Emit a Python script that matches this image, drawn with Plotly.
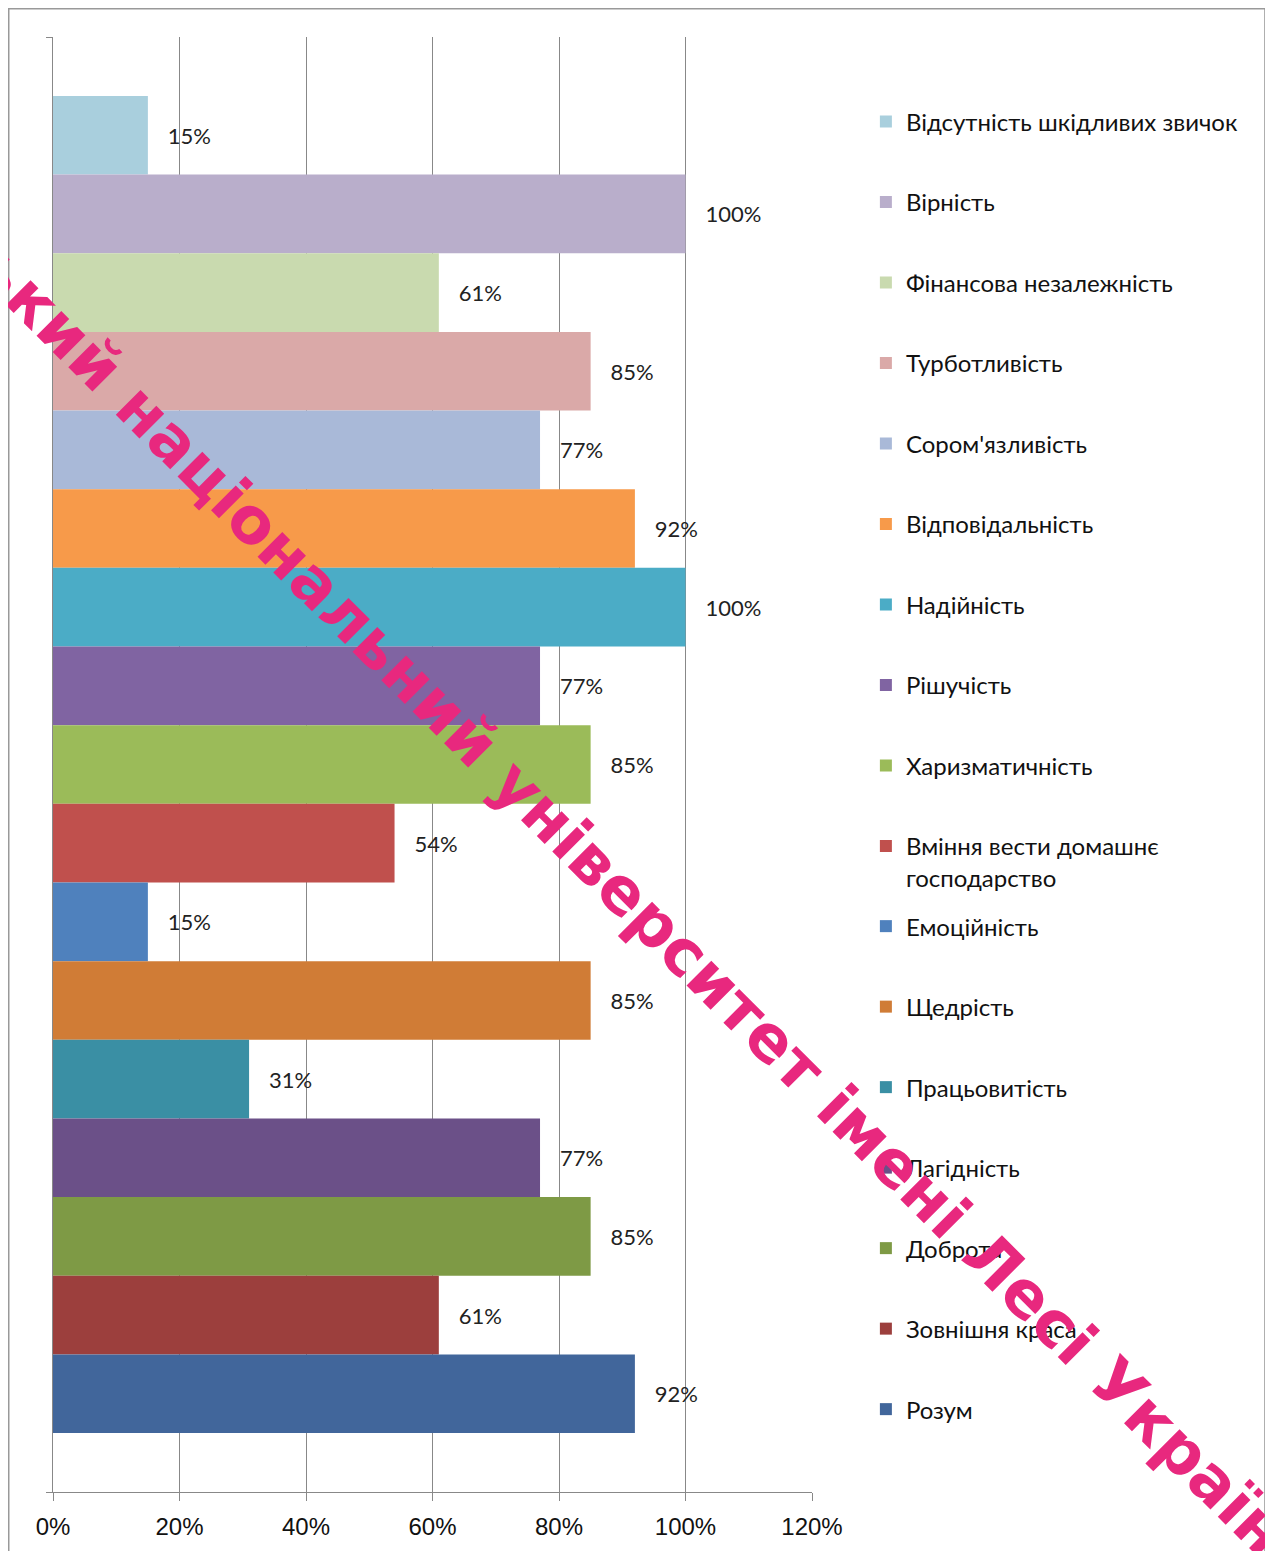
import plotly.graph_objects as go

traits = [
    "Відсутність шкідливих звичок",
    "Вірність",
    "Фінансова незалежність",
    "Турботливість",
    "Сором'язливість",
    "Відповідальність",
    "Надійність",
    "Рішучість",
    "Харизматичність",
    "Вміння вести домашнє<br>господарство",
    "Емоційність",
    "Щедрість",
    "Працьовитість",
    "Лагідність",
    "Доброта",
    "Зовнішня краса",
    "Розум",
]
values = [15, 100, 61, 85, 77, 92, 100, 77, 85, 54, 15, 85, 31, 77, 85, 61, 92]
colors = [
    "#A9CFDD", "#B9AECB", "#C9DAAF", "#DAA9A8", "#A9B9D8", "#F79A4A",
    "#4BACC6", "#8064A2", "#9BBB59", "#C0504D", "#4F81BD", "#D07C36",
    "#3A8FA4", "#6B5088", "#7E9A45", "#9C3F3D", "#41669B",
]
x_tick_vals = [0, 0.2, 0.4, 0.6, 0.8, 1.0, 1.2]
x_tick_text = ["0%", "20%", "40%", "60%", "80%", "100%", "120%"]
watermark = "Східноєвропейський національний університет імені Лесі Українки"

GRID = "#888888"
fig = go.Figure()
for i, (name, v, c) in enumerate(zip(traits, values, colors)):
    fig.add_trace(go.Bar(
        y=["q"], x=[v / 100], orientation="h", name=name,
        marker=dict(color=c, line=dict(width=0)),
        text=[f"{v}%"], texttemplate="\u00a0\u00a0\u00a0%{text}",
        textposition="outside", cliponaxis=False, constraintext="none",
        textfont=dict(family="Lato", size=22, color="#222222"),
        legend="legend" if i < 10 else "legend2",
        legendgroup=f"g{i}",
    ))

legend_common = dict(
    traceorder="grouped", tracegroupgap=46.3, valign="top",
    font=dict(family="Lato", size=24, color="#111111"),
    bgcolor="rgba(0,0,0,0)", xanchor="left", yanchor="top",
    itemsizing="constant",
)
fig.update_layout(
    width=1265, height=1543,
    margin=dict(l=45, r=461, t=29, b=59),
    paper_bgcolor="white", plot_bgcolor="white",
    barmode="group", bargap=0.081,
    showlegend=True,
    legend=dict(x=1.071, y=0.9571, **legend_common),
    legend2=dict(x=1.071, y=0.4041, **legend_common),
    xaxis=dict(
        range=[0, 1.2], tickvals=x_tick_vals, ticktext=x_tick_text,
        showgrid=True, gridcolor=GRID, gridwidth=1.3,
        showline=True, linecolor=GRID, linewidth=1.3,
        ticks="outside", ticklen=8, tickcolor=GRID, tickwidth=1.3,
        tickfont=dict(family="Liberation Sans, Arial, sans-serif", size=24, color="#111111"),
        ticklabelstandoff=5,
        zeroline=False,
    ),
    yaxis=dict(
        type="category", autorange="reversed", showticklabels=False,
        showline=True, linecolor=GRID, linewidth=1.3,
        ticks="outside", tickson="boundaries", ticklen=6, tickcolor=GRID,
        showgrid=False, zeroline=False,
    ),
    shapes=[dict(
        type="rect", xref="paper", yref="paper",
        x0=-0.0583, x1=1.5968, y0=-0.06, y1=1.0194,
        line=dict(color="#999999", width=1.5), fillcolor="rgba(0,0,0,0)", layer="below",
    )],
    annotations=[dict(
        text=f"<b>{watermark}</b>", xref="paper", yref="paper",
        x=0.531, y=0.528, xanchor="center", yanchor="middle",
        showarrow=False, textangle=45,
        font=dict(family="DejaVu Sans", size=64, color="#E8287E"),
    )],
)

fig.write_html("out.html")
